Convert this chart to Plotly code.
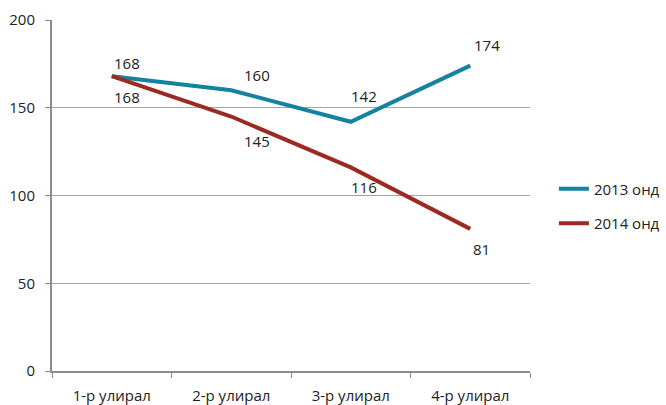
import plotly.graph_objects as go

categories = ["1-р улирал", "2-р улирал", "3-р улирал", "4-р улирал"]
series_2013 = [168, 160, 142, 174]
series_2014 = [168, 145, 116, 81]
names = ["2013 онд", "2014 онд"]
colors = ["#15829F", "#9A2A22"]

fig = go.Figure()
fig.add_trace(go.Scatter(x=categories, y=series_2013, mode="lines", name=names[0],
                         legendgroup="a", line=dict(color=colors[0], width=4)))
fig.add_trace(go.Scatter(x=categories, y=series_2014, mode="lines", name=names[1],
                         legendgroup="b", line=dict(color=colors[1], width=4)))

# label offsets (pixels) for readability
off13 = [(15, -13), (26, -15), (13, -26), (17, -21)]
off14 = [(15, 21), (26, 24), (13, 20), (11, 20)]
for cat, v, (dx, dy) in zip(categories, series_2013, off13):
    fig.add_annotation(x=cat, y=v, text=str(v), showarrow=False, xshift=dx, yshift=-dy,
                       font=dict(size=15, color="#222"))
for cat, v, (dx, dy) in zip(categories, series_2014, off14):
    fig.add_annotation(x=cat, y=v, text=str(v), showarrow=False, xshift=dx, yshift=-dy,
                       font=dict(size=15, color="#222"))

fig.update_layout(
    width=666, height=405,
    margin=dict(l=52, r=136, t=20, b=34, autoexpand=False),
    plot_bgcolor="white", paper_bgcolor="white",
    font=dict(family="Open Sans, Noto Sans, sans-serif", size=15, color="#222"),
    legend=dict(x=1.05, y=0.47, yanchor="middle", xanchor="left",
                font=dict(size=15), tracegroupgap=12, traceorder="grouped"),
    showlegend=True,
)
fig.update_xaxes(type="category", showgrid=False, showline=True, linecolor="#8c8c8c", linewidth=2,
                 ticks="outside", tickson="boundaries", ticklen=5, tickcolor="#8c8c8c",
                 range=[-0.5, 3.5], automargin=False, ticklabelstandoff=10)
fig.update_yaxes(range=[0, 200], dtick=50, showgrid=True, gridcolor="#a6a6a6", gridwidth=1,
                 showline=True, linecolor="#8c8c8c", linewidth=2, ticks="outside", ticklen=5,
                 tickcolor="#8c8c8c", zeroline=False, automargin=False, ticklabelstandoff=7,
                 tickfont=dict(size=15))

fig.write_html("out.html", config={"displayModeBar": False},
               post_script="document.body.style.margin='0';")
